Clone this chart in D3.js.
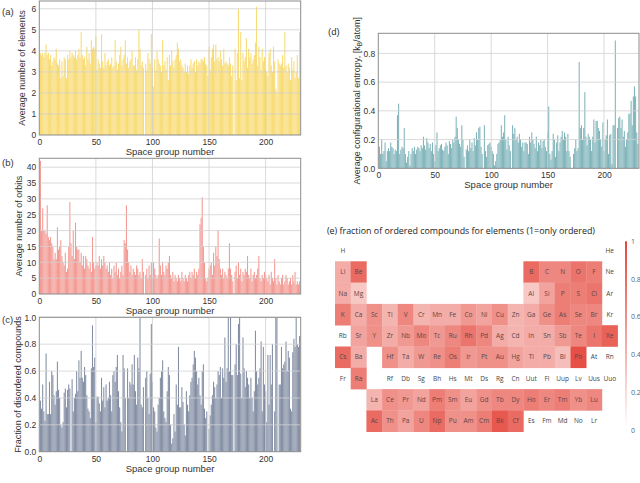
<!DOCTYPE html>
<html>
<head>
<meta charset="utf-8">
<script src="https://cdn.jsdelivr.net/npm/d3@7"></script>
<style>
  body { margin: 0; background: #fff; }
  svg { display: block; }
  text { font-family: "Liberation Sans", Arial, sans-serif; fill: #333; }
</style>
</head>
<body>
<div id="chart"></div>
<script>
// space groups 1..230 on the x axis of every bar panel
var groupNumbers = d3.range(1, 231);
var xTicks = [0, 50, 100, 150, 200];

// (a) average number of elements
var avgElements = [
  3.9, 3.8, 3.9, 3.7, 3.9, 4.3, 3.8, 3.9, 3.6, 3.8,
  3.3, 3.5, 3.7, 3.6, 4.1, 3.4, 3.3, 3.6, 2.7, 3.5,
  2.8, 3.7, 3.6, 2.7, 3.8, 3.6, 4.0, 3.7, 3.9, 3.8,
  3.7, 4.0, 3.6, 3.8, 4.1, 3.7, 4.9, 3.8, 3.6, 3.7,
  3.3, 4.2, 3.6, 3.9, 3.4, 4.5, 4.1, 4.2, 4.1, 4.7,
  3.1, 3.6, 3.4, 3.2, 4.8, 3.5, 3.2, 3.9, 3.3, 3.5,
  3.6, 3.3, 3.4, 3.7, 3.2, 3.3, 4.5, 3.5, 3.1, 3.4,
  3.8, 4.2, 3.3, 3.6, 3.8, 4.5, 3.4, 3.7, 3.2, 3.5,
  3.6, 4.0, 3.3, 3.3, 3.7, 3.1, 3.6, 5.0, 4.1, 3.3,
  3.5, 3.2, 0, 3.4, 3.1, 3.9, 3.6, 3.4, 4.8, 3.2,
  2.3, 3.6, 3.1, 4.0, 3.6, 3.4, 3.3, 3.0, 4.5, 3.3,
  3.5, 3.1, 3.7, 2.6, 3.8, 3.3, 4.0, 3.5, 3.2, 3.6,
  3.8, 4.4, 4.1, 3.5, 3.6, 3.3, 3.2, 3.0, 3.4, 3.0,
  3.3, 2.9, 3.3, 3.6, 3.2, 3.4, 3.5, 3.0, 3.6, 3.3,
  3.5, 3.4, 3.6, 3.6, 3.5, 3.7, 3.4, 3.3, 2.8, 4.2,
  3.1, 3.7, 4.1, 4.3, 3.5, 4.3, 3.6, 3.7, 3.5, 4.0,
  3.6, 3.3, 4.1, 3.4, 3.5, 3.4, 3.3, 3.7, 3.4, 2.8,
  3.3, 0, 4.1, 2.6, 3.9, 6.0, 2.7, 4.9, 2.6, 3.9,
  3.5, 3.7, 4.6, 3.2, 4.1, 3.7, 3.9, 3.4, 3.6, 3.8,
  4.4, 6.1, 3.3, 4.2, 3.7, 3.1, 4.1, 3.5, 3.7, 3.1,
  3.0, 2.8, 3.9, 4.1, 3.3, 3.0, 4.2, 3.5, 2.2, 2.0,
  3.6, 3.4, 3.3, 3.4, 3.8, 3.2, 4.9, 3.3, 3.0, 3.4,
  3.2, 2.6, 3.7, 3.1, 3.5, 2.7, 3.0, 3.8, 2.7, 4.9
];

// (b) average number of orbits
var avgOrbits = [
  42, 20, 27, 20, 20, 19, 28, 18, 17, 18,
  16, 15, 11, 13, 11, 21, 14, 15, 17, 12,
  10, 9, 13, 7, 8, 15, 29, 16, 12, 20,
  11, 22.5, 15, 14, 14, 10, 13, 9, 12, 8,
  12, 11, 9, 8, 10, 7, 18, 10, 8, 9,
  10, 9, 12, 8, 11, 9, 12, 10, 8, 9,
  7, 10, 6, 8, 5, 9, 7, 10, 6, 8,
  5, 7, 9, 6, 17, 16, 28, 14, 10, 7,
  9, 6, 8, 7, 6, 9, 8, 6, 7, 5,
  11, 7, 0, 6, 8, 5, 9, 6, 10, 5,
  10, 8, 6, 5, 6, 17.5, 9, 6, 10, 7,
  6, 9, 8, 10, 12, 6, 5, 7, 4, 6,
  5, 4, 6, 5, 4, 7, 5, 4, 6, 5,
  4, 6, 7, 5, 7, 6, 8, 5, 7, 6,
  8, 22, 24, 30.5, 15, 10, 5, 4, 5, 8,
  9, 10, 6, 13, 9, 15, 12, 20, 11, 8,
  6, 8, 5, 7, 6, 5, 8, 16, 8, 6,
  4, 0, 7, 9, 5, 10, 6, 8, 4, 7,
  6, 8, 7, 12, 6, 5, 8, 4, 6, 7,
  5, 6, 8, 12, 5, 4, 6, 5, 7, 6,
  5, 4, 6, 3, 7, 5, 4, 11, 5, 3,
  6, 4, 3, 5, 6, 3, 4, 6, 5, 3,
  4, 5, 3, 6, 4, 7, 3, 4, 3, 4
];

// (c) fraction of disordered compounds
var fracDisordered = [
  0.38, 0.32, 0.50, 0.30, 0.23, 0.73, 0.28, 0.28, 0.52, 0.28,
  0.60, 0.57, 0.42, 0.35, 0.45, 0.67, 0.46, 0.40, 0.20, 0.18,
  0.22, 0.44, 0.47, 0.33, 0.46, 0.50, 0.47, 0, 0.54, 0.30,
  0.40, 0.43, 0.60, 0.45, 0.68, 0.55, 0.75, 0.55, 0.52, 0.63,
  0.57, 0.42, 0.32, 0.30, 0.25, 0.62, 0.94, 0.63, 0.70, 0.22,
  0.41, 0.41, 0.36, 0.30, 0.55, 0.38, 0.48, 0.33, 0.50, 0.38,
  0.40, 0.52, 0.42, 0.30, 0.57, 0.60, 0.52, 0.63, 0.72, 0.45,
  0.33, 0.22, 0.15, 0.72, 0.62, 0.40, 0, 0.62, 0.40, 0.52,
  0.50, 0.65, 0.50, 0.72, 0.45, 0.35, 0.70, 0.62, 1.00, 0.35,
  0.33, 0.48, 0, 0.55, 0.60, 0.40, 0.28, 0.58, 0.95, 0.52,
  0.33, 0.30, 0.18, 0.15, 0.35, 0.40, 0.55, 0.60, 0.68, 0.30,
  0.25, 0.22, 0.45, 0.63, 0.57, 0.20, 0.06, 0.10, 0.28, 0.15,
  0.50, 0.35, 0.78, 0.33, 0.33, 0.48, 0.37, 0.20, 0.12, 0.45,
  0.35, 0.30, 0.42, 0.52, 0.55, 0.65, 0.75, 0.70, 0.60, 0.50,
  0.55, 0.42, 0.35, 0.60, 0.65, 0.32, 0.25, 0.30, 0, 0.17,
  0.27, 0.35, 0.42, 0.52, 0.48, 0.40, 0.50, 0.60, 0.57, 0.63,
  0.40, 0.62, 0.55, 0.85, 0.52, 0.62, 1.00, 0.60, 1.00, 0.57,
  0.57, 0, 0.65, 0.80, 0.57, 0.95, 1.00, 0.58, 0.40, 0.85,
  0.62, 0.48, 0.60, 0.55, 0.50, 0.40, 0.55, 0.40, 0.30, 0.45,
  0.90, 0.60, 0.50, 0.55, 0.62, 0.82, 0.30, 0.78, 0.50, 0.45,
  0.22, 0.72, 0.35, 0.72, 0.50, 0.80, 0, 0.30, 1.00, 1.00,
  0, 0.50, 0.50, 0.78, 0.62, 0.65, 0.67, 0.82, 0.60, 0.75,
  0.70, 0.32, 0.30, 0.74, 0.84, 0.78, 1.00, 0.80, 0.78, 0.86
];

// (d) average configurational entropy
var avgEntropy = [
  0.15, 0.10, 0.20, 0.10, 0.12, 0.18, 0.05, 0.12, 0.14, 0.12,
  0.18, 0.15, 0.14, 0.10, 0.13, 0.12, 0.37, 0.45, 0.10, 0.13,
  0.15, 0.14, 0.28, 0.10, 0.04, 0.08, 0.12, 0.02, 0.10, 0.14,
  0.12, 0.15, 0.10, 0.13, 0.15, 0.14, 0.12, 0.16, 0.14, 0.22,
  0.16, 0.13, 0.21, 0.18, 0.14, 0.17, 0.12, 0.18, 0.10, 0.05,
  0.16, 0.25, 0.12, 0.14, 0.16, 0.17, 0.13, 0.12, 0.15, 0.18,
  0.16, 0.10, 0.19, 0.17, 0.14, 0.20, 0.18, 0.22, 0.36, 0.28,
  0.20, 0.17, 0.15, 0.30, 0.20, 0.08, 0, 0.13, 0.16, 0.12,
  0.20, 0.14, 0.18, 0.12, 0.21, 0.16, 0.25, 0.20, 0.28, 0.29,
  0.15, 0.10, 0, 0.30, 0.12, 0.08, 0.16, 0.17, 0.18, 0.15,
  0.12, 0.10, 0.02, 0.05, 0.10, 0.17, 0.18, 0.20, 0.30, 0.22,
  0.25, 0.37, 0.20, 0.13, 0.22, 0.16, 0.12, 0, 0.30, 0.24,
  0.28, 0.20, 0.22, 0.18, 0.24, 0.20, 0.15, 0.18, 0.12, 0.18,
  0.18, 0.17, 0.10, 0.22, 0.18, 0.25, 0.20, 0.17, 0.14, 0.22,
  0.12, 0.18, 0.16, 0.20, 0.14, 0.19, 0.20, 0.15, 0.12, 0.25,
  0.43, 0.10, 0.06, 0.12, 0.24, 0.20, 0.08, 0.18, 0.23, 0.12,
  0.18, 0.22, 0.26, 0.20, 0.25, 0.22, 0.12, 0.24, 0.12, 0.08,
  0, 0, 0.10, 0.14, 0.20, 0.12, 0.14, 0.74, 0.28, 0.30,
  0.20, 0.28, 0.53, 0.22, 0.16, 0.24, 0.22, 0.20, 0.12, 0.22,
  0.34, 0.18, 0.33, 0.33, 0.28, 0.26, 0.20, 0.15, 0.32, 0.12,
  0.20, 0.23, 0.34, 0.10, 0.23, 0.24, 0.03, 0.30, 0.30, 0.89,
  0, 0.28, 0.35, 0.36, 0.28, 0.34, 0.22, 0.26, 0.15, 0.20,
  0.25, 0.38, 0.38, 0.47, 0.30, 0.50, 0.57, 0.50, 0.25, 0.17
];

// (e) periodic table: symbols and fraction of ordered compounds (null = no data)
var tableRows = [
  ["H", "", "", "", "", "", "", "", "", "", "", "", "", "", "", "", "", "He"],
  ["Li", "Be", "", "", "", "", "", "", "", "", "", "", "B", "C", "N", "O", "F", "Ne"],
  ["Na", "Mg", "", "", "", "", "", "", "", "", "", "", "Al", "Si", "P", "S", "Cl", "Ar"],
  ["K", "Ca", "Sc", "Ti", "V", "Cr", "Mn", "Fe", "Co", "Ni", "Cu", "Zn", "Ga", "Ge", "As", "Se", "Br", "Kr"],
  ["Rb", "Sr", "Y", "Zr", "Nb", "Mo", "Tc", "Ru", "Rh", "Pd", "Ag", "Cd", "In", "Sn", "Sb", "Te", "I", "Xe"],
  ["Cs", "Ba", "", "Hf", "Ta", "W", "Re", "Os", "Ir", "Pt", "Au", "Hg", "Tl", "Pb", "Bi", "Po", "At", "Rn"],
  ["Fr", "Ra", "", "Rf", "Db", "Sg", "Bh", "Hs", "Mt", "Ds", "Rg", "Cn", "Uut", "Fl", "Uup", "Lv", "Uus", "Uuo"],
  ["", "", "La", "Ce", "Pr", "Nd", "Pm", "Sm", "Eu", "Gd", "Tb", "Dy", "Ho", "Er", "Tm", "Yb", "Lu", ""],
  ["", "", "Ac", "Th", "Pa", "U", "Np", "Pu", "Am", "Cm", "Bk", "Cf", "Es", "Fm", "Md", "No", "Lr", ""]
];
var orderedFraction = [
  [null, null, null, null, null, null, null, null, null, null, null, null, null, null, null, null, null, null],
  [0.45, 0.8, null, null, null, null, null, null, null, null, null, null, 0.8, 0.65, 0.65, 0.75, 0.7, null],
  [0.45, 0.3, null, null, null, null, null, null, null, null, null, null, 0.3, 0.5, 0.7, 0.7, 0.75, null],
  [0.7, 0.45, 0.6, 0.4, 0.65, 0.4, 0.45, 0.45, 0.55, 0.5, 0.6, 0.4, 0.45, 0.6, 0.7, 0.65, 0.65, null],
  [null, 0.5, 0.6, 0.45, 0.55, 0.65, 0.55, 0.65, 0.75, 0.65, 0.45, 0.4, 0.45, 0.45, 0.55, 0.65, 0.75, 0.85],
  [0.8, 0.45, null, 0.6, 0.45, 0.55, 0.6, 0.7, 0.55, 0.6, 0.6, 0.5, 0.45, 0.45, 0.35, 0.95, null, null],
  [null, 0.7, null, null, null, null, null, null, null, null, null, null, null, null, null, null, null, null],
  [null, null, 0.4, 0.6, 0.55, 0.5, 0.7, 0.6, 0.5, 0.6, 0.65, 0.65, 0.7, 0.65, 0.7, 0.6, 0.65, null],
  [null, null, 0.8, 0.6, 0.5, 0.65, 0.8, 0.6, 0.6, 0.7, 0.9, 0.8, null, null, null, null, null, null]
];
var colorbarTicks = [0, 0.2, 0.4, 0.6, 0.8, 1];

var svg = d3.select("#chart")
  .append("svg")
  .attr("width", 640)
  .attr("height", 483);

// one bar panel
function barPanel(p) {
  var x = d3.scaleLinear().domain([0, 231]).range([p.left, p.right]);
  var y = d3.scaleLinear().domain([0, p.yMax]).range([p.bottom, p.top]);
  var g = svg.append("g");
  var bw = (x(1) - x(0)) * 0.93;

  g.selectAll("rect.bar")
    .data(p.data)
    .enter()
    .append("rect")
    .attr("class", "bar")
    .attr("x", function (d, i) { return x(groupNumbers[i]) - bw / 2; })
    .attr("y", function (d) { return y(d); })
    .attr("width", bw)
    .attr("height", function (d) { return p.bottom - y(d); })
    .attr("fill", p.color);

  // grid on top of the bars
  g.selectAll("line.vg")
    .data(xTicks.slice(1))
    .enter()
    .append("line")
    .attr("x1", function (d) { return x(d); })
    .attr("x2", function (d) { return x(d); })
    .attr("y1", p.top)
    .attr("y2", p.bottom)
    .attr("stroke", "#d0d0d0")
    .attr("stroke-width", 0.8);
  g.selectAll("line.hg")
    .data(p.yTicks.slice(1))
    .enter()
    .append("line")
    .attr("x1", p.left)
    .attr("x2", p.right)
    .attr("y1", function (d) { return y(d); })
    .attr("y2", function (d) { return y(d); })
    .attr("stroke", "#d0d0d0")
    .attr("stroke-width", 0.8);

  g.append("rect")
    .attr("x", p.left)
    .attr("y", p.top)
    .attr("width", p.right - p.left)
    .attr("height", p.bottom - p.top)
    .attr("fill", "none")
    .attr("stroke", "#8c8c8c")
    .attr("stroke-width", 1);

  var xa = g.append("g")
    .attr("transform", "translate(0," + p.bottom + ")")
    .call(d3.axisBottom(x).tickValues(xTicks).tickSize(0).tickPadding(4));
  var ya = g.append("g")
    .attr("transform", "translate(" + p.left + ",0)")
    .call(d3.axisLeft(y).tickValues(p.yTicks).tickFormat(p.fmt).tickSize(0).tickPadding(3));
  [xa, ya].forEach(function (a) {
    a.select(".domain").remove();
    a.selectAll("text")
      .style("font-family", "'Liberation Sans', Arial, sans-serif")
      .style("font-size", "8.5px")
      .attr("fill", "#333");
  });

  g.append("text")
    .attr("x", (p.left + p.right) / 2)
    .attr("y", p.bottom + 20)
    .attr("text-anchor", "middle")
    .style("font-size", "9.5px")
    .text("Space group number");

  var yl = g.append("text")
    .attr("transform", "translate(" + p.ylabelX + "," + (p.top + p.bottom) / 2 + ") rotate(-90)")
    .attr("text-anchor", "middle")
    .style("font-size", "9px");
  if (p.ylabelSub) {
    yl.append("tspan").text(p.ylabel);
    yl.append("tspan").attr("font-size", "6.5px").attr("dy", 2).text("B");
    yl.append("tspan").attr("dy", -2).text("/atom]");
  } else {
    yl.text(p.ylabel);
  }

  g.append("text")
    .attr("x", p.tagX)
    .attr("y", p.tagY)
    .style("font-size", "9.5px")
    .text(p.tag);
}

barPanel({
  left: 39.3, right: 300.7, top: 1, bottom: 135,
  data: avgElements, yMax: 6.37, yTicks: [0, 1, 2, 3, 4, 5, 6], fmt: d3.format("d"),
  color: "#f8db72", ylabel: "Average number of elements", ylabelX: 25,
  tag: "(a)", tagX: 2, tagY: 15
});
barPanel({
  left: 39.3, right: 300.7, top: 158.3, bottom: 294,
  data: avgOrbits, yMax: 42.8, yTicks: [0, 5, 10, 15, 20, 25, 30, 35, 40], fmt: d3.format("d"),
  color: "#f39992", ylabel: "Average number of orbits", ylabelX: 22,
  tag: "(b)", tagX: 2, tagY: 166
});
barPanel({
  left: 39.3, right: 300.7, top: 317.3, bottom: 451.7,
  data: fracDisordered, yMax: 1, yTicks: [0, 0.2, 0.4, 0.6, 0.8, 1.0], fmt: d3.format(".1f"),
  color: "#838ea4", ylabel: "Fraction of disordered compounds", ylabelX: 21,
  tag: "(c)", tagX: 2, tagY: 323
});
barPanel({
  left: 378.3, right: 639, top: 33.3, bottom: 168.3,
  data: avgEntropy, yMax: 0.94, yTicks: [0, 0.2, 0.4, 0.6, 0.8], fmt: d3.format(".1f"),
  color: "#7fb4ba", ylabel: "Average configurational entropy, [k", ylabelSub: true, ylabelX: 360,
  tag: "(d)", tagX: 328, tagY: 35
});

// (e) periodic table heatmap
var col = d3.scaleBand().domain(d3.range(18)).range([335, 617.6]);
var row = d3.scaleBand().domain(d3.range(tableRows.length)).range([240, 431.7]);
var color = d3.scaleLinear().domain([0, 1]).range(["#ffffff", "#e4463b"]);

var cells = [];
tableRows.forEach(function (r, ri) {
  r.forEach(function (s, ci) {
    if (s !== "") cells.push({ sym: s, r: ri, c: ci, v: orderedFraction[ri][ci] });
  });
});

var pt = svg.append("g");
pt.selectAll("rect")
  .data(cells.filter(function (d) { return d.v !== null; }))
  .enter()
  .append("rect")
  .attr("x", function (d) { return col(d.c); })
  .attr("y", function (d) { return row(d.r); })
  .attr("width", col.bandwidth() + 0.3)
  .attr("height", row.bandwidth() + 0.3)
  .attr("fill", function (d) { return color(d.v); });
pt.selectAll("text")
  .data(cells)
  .enter()
  .append("text")
  .attr("x", function (d) { return col(d.c) + col.bandwidth() / 2; })
  .attr("y", function (d) { return row(d.r) + row.bandwidth() / 2 + 2.3; })
  .attr("text-anchor", "middle")
  .style("font-family", "'Open Sans', sans-serif")
  .style("font-size", "6.5px")
  .style("fill", function (d) { return d.v === null ? "#444444" : "#604646"; })
  .text(function (d) { return d.sym; });

svg.append("text")
  .attr("x", 327)
  .attr("y", 234)
  .style("font-family", "'Open Sans', sans-serif")
  .style("font-size", "8.9px")
  .style("fill", "#222")
  .text("(e)  fraction of ordered compounds for elements (1=only ordered)");

// colorbar
var cb = d3.scaleLinear().domain([0, 1]).range([430, 241.3]);
var defs = svg.append("defs");
var grad = defs.append("linearGradient")
  .attr("id", "cbgrad")
  .attr("x1", 0).attr("y1", 1).attr("x2", 0).attr("y2", 0);
grad.append("stop").attr("offset", "0%").attr("stop-color", color(0));
grad.append("stop").attr("offset", "100%").attr("stop-color", color(1));
svg.append("rect")
  .attr("x", 625)
  .attr("y", cb(1))
  .attr("width", 2)
  .attr("height", cb(0) - cb(1))
  .attr("fill", "url(#cbgrad)");
svg.selectAll("text.cbt")
  .data(colorbarTicks)
  .enter()
  .append("text")
  .attr("class", "cbt")
  .attr("x", 631)
  .attr("y", function (d) { return cb(d) + 2.5; })
  .style("font-family", "'Open Sans', sans-serif")
  .style("font-size", "7px")
  .style("fill", "#506784")
  .text(function (d) { return d; });
</script>
</body>
</html>
